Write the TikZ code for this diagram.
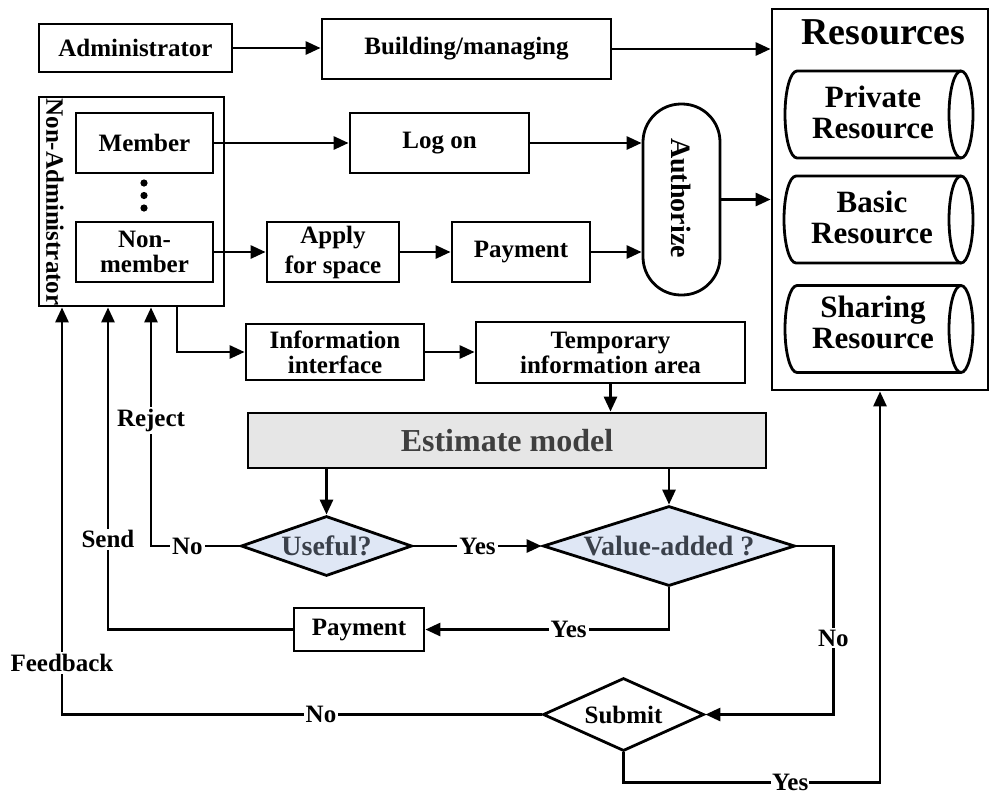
\documentclass[tikz,border=0pt]{standalone}
\usepackage{fontspec}
\setmainfont{Liberation Serif}
\usetikzlibrary{shapes.geometric,arrows.meta}
\definecolor{estfill}{HTML}{E6E6E6}
\definecolor{decfill}{HTML}{DFE7F5}
\definecolor{esttext}{HTML}{3F3F3F}
\definecolor{dectext}{HTML}{3A404A}
% horizontal storage cylinder: #1 = centre y, #2 = left x, #3 = right x
\newcommand\drawstore[3]{%
  \draw (#3-12,#1-43.5) -- (#2+12,#1-43.5)
        arc[start angle=90,end angle=270,x radius=6pt,y radius=21.75pt]
        -- (#3-12,#1+43.5);
  \draw (#3-12,#1) ellipse[x radius=6pt,y radius=21.75pt];}
\begin{document}
\begin{tikzpicture}[x=0.5pt,y=-0.5pt,
  line width=1.4pt,
  font=\fontsize{12.5}{12.5}\selectfont\bfseries,
  box/.style={draw, rectangle, inner sep=0pt, align=center},
  decision/.style={draw, diamond, inner sep=0pt, fill=decfill},
  dtext/.style={text=dectext, font=\fontsize{14}{14}\selectfont\bfseries},
  storetext/.style={align=center, font=\fontsize{15.5}{15.5}\selectfont\bfseries},
  arr/.style={-{Triangle[length=7.5pt,width=6.5pt]}},
  lbl/.style={fill=white, inner sep=1pt},
]
\useasboundingbox (0,0) rectangle (990,794);

% top row
\node[box, minimum width=96.5pt, minimum height=24pt] (adm) at (135.5,48) {Administrator};
\node[box, minimum width=144.5pt, minimum height=30pt] (build) at (466.5,49) {Building/managing};

% resources
\node[box, minimum width=108pt, minimum height=190.5pt] (res) at (880,199.5) {};
\node (restitle) at (883,32) {\fontsize{19}{19}\selectfont Resources};
\drawstore{114.5}{785}{973}
\drawstore{219.5}{784}{973}
\drawstore{329}{785}{973}
\node[storetext] (priv) at (873,112) {Private\\Resource};
\node[storetext] (basic) at (872,217.5) {Basic\\Resource};
\node[storetext] (share) at (873,322) {Sharing\\Resource};

% users
\node[box, minimum width=92.5pt, minimum height=104.5pt] (nonadm) at (131.5,201.5) {};
\node[rotate=-90] (nonadmlbl) at (55,202) {Non-Administrator};
\node[box, minimum width=68.5pt, minimum height=30pt] (member) at (144.5,143) {Member};
\node[box, minimum width=68.5pt, minimum height=30pt] (nonmem) at (144.5,252) {Non-\\member};
\fill (144,183) circle[radius=1.8pt];
\fill (144,195.5) circle[radius=1.8pt];
\fill (144,208) circle[radius=1.8pt];

% access path
\node[box, minimum width=89.5pt, minimum height=30pt] (logon) at (439.5,143) {Log on};
\node[box, minimum width=66pt, minimum height=30pt, font=\fontsize{12.5}{15}\selectfont\bfseries] (apply) at (333,252) {Apply\\for space};
\node[box, minimum width=69pt, minimum height=30pt] (pay1) at (521,252) {Payment};
\node[box, minimum width=38.5pt, minimum height=95.5pt, rounded corners=19pt] (auth) at (681.5,199.5) {};
\node[rotate=-90, font=\fontsize{14}{14}\selectfont\bfseries] (authlbl) at (681.5,198) {Authorize};

% information flow
\node[box, minimum width=89pt, minimum height=28pt] (info) at (335,352) {Information\\interface};
\node[box, minimum width=134.5pt, minimum height=30.5pt] (temp) at (610.5,352.5) {Temporary\\information area};
\node[box, fill=estfill, minimum width=259pt, minimum height=27.5pt, text=esttext, font=\fontsize{16}{16}\selectfont\bfseries] (est) at (507,440.5) {Estimate model};
\node[decision, minimum width=85.5pt, minimum height=30pt] (useful) at (326.5,546) {};
\node[dtext] (usefullbl) at (useful) {Useful?};
\node[decision, minimum width=126pt, minimum height=40pt] (value) at (669,546) {};
\node[dtext] (valuelbl) at (value) {Value-added ?};
\node[box, minimum width=65pt, minimum height=21.5pt] (pay2) at (359,629.5) {Payment};
\node[decision, fill=white, minimum width=80.5pt, minimum height=36.5pt] (submit) at (623.5,714.5) {};
\node (submitlbl) at (submit) {Submit};

% connectors
\draw[arr] (adm.east) -- (adm.east -| build.west);
\draw[arr] (build.east) -- (build.east -| res.west);
\draw[arr] (member) -- (logon);
\draw[arr] (nonmem) -- (apply);
\draw[arr] (apply) -- (pay1);
\draw[arr] (logon.east) -- (logon.east -| auth.west);
\draw[arr] (pay1.east) -- (pay1.east -| auth.west);
\draw[arr] (auth.east) -- (auth.east -| res.west);

\coordinate (infox) at ([xshift=22.75pt]nonadm.south);
\draw[arr] (infox) |- (info.west);
\draw[arr] (info.east) -- (info.east -| temp.west);
\draw[arr] (temp.south) -- (temp.south |- est.north);
\draw[arr] (useful.north |- est.south) -- (useful.north);
\draw[arr] (value.north |- est.south) -- (value.north);
\draw[arr] (useful.east) -- node[lbl]{Yes} (value.west);

\coordinate (rejx) at ([xshift=9.75pt]nonadm.south);
\draw[arr] (useful.west) -- node[lbl,pos=0.59]{No} (useful.west -| rejx)
  -- node[lbl,pos=0.525]{Reject} (rejx);

\draw[arr] (value.south) |- node[lbl,pos=0.706]{Yes} (pay2.east);
\coordinate (sendx) at ([xshift=-11.75pt]nonadm.south);
\draw[arr] (pay2.west) -| node[lbl,pos=0.64]{Send} (sendx);

\coordinate (vr) at ([xshift=18.5pt]value.east);
\draw[arr] (value.east) -- (vr) |- node[lbl,pos=0.273]{No} (submit.east);

\coordinate (fbx) at ([xshift=-34.75pt]nonadm.south);
\draw[arr] (submit.west) -| node[lbl,pos=0.23]{No} node[lbl,pos=0.563]{Feedback} (fbx);

\coordinate (sb) at ([yshift=-15pt]submit.south);
\draw[arr] (submit.south) -- (sb) -| node[lbl,pos=0.325,inner sep=0.5pt]{Yes} (res.south);
\end{tikzpicture}
\end{document}
